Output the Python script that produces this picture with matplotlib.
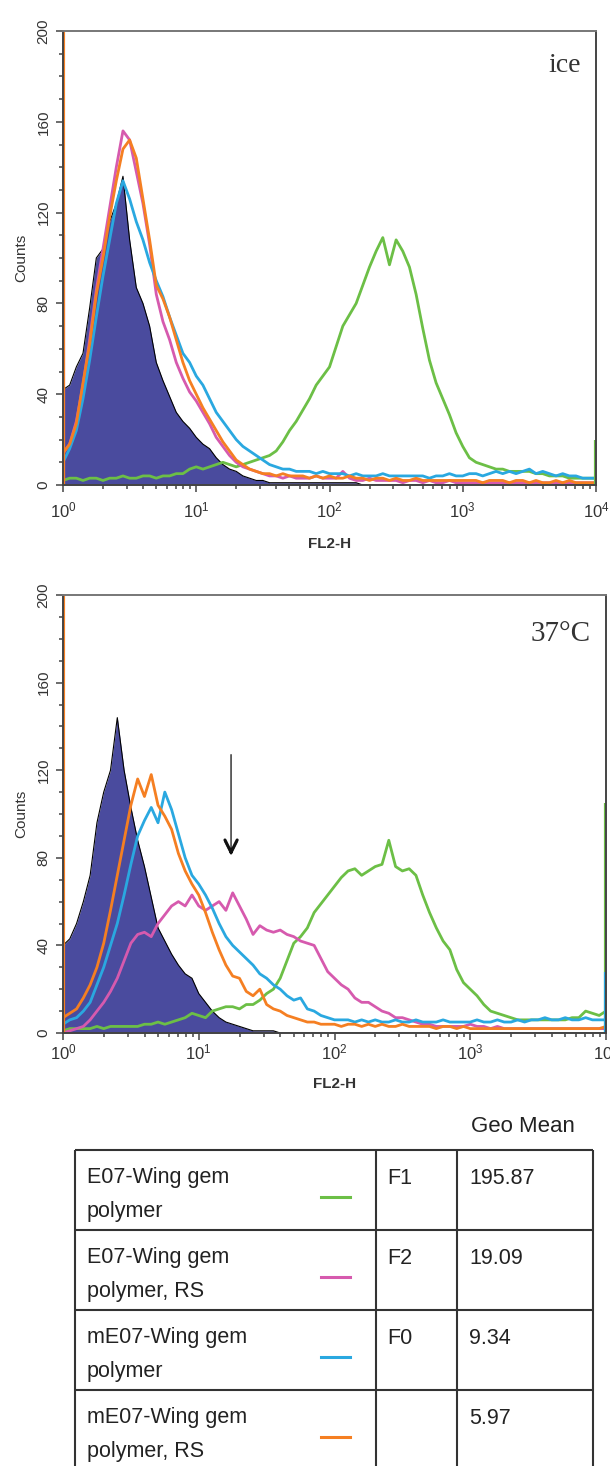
import numpy as np
import matplotlib
matplotlib.use("Agg")
import matplotlib.pyplot as plt
from matplotlib.ticker import FixedLocator, LogLocator, MultipleLocator, NullFormatter

plt.rcParams["font.family"] = ["Liberation Sans", "DejaVu Sans"]
plt.rcParams["mathtext.default"] = "regular"

# FL2-H channels, log10 units, 0.05-decade bins from 10^0 to 10^4
DECADES = np.round(np.arange(0, 4.0001, 0.05), 2)

# ---- ice panel (counts per channel) ----
ICE_CONTROL = [42, 44, 52, 58, 78, 100, 104, 116, 124, 136,
               108, 87, 80, 70, 54, 46, 39, 32, 28, 25,
               21, 18, 16, 12, 9, 7, 6, 4, 3, 2,
               2, 1, 1, 1, 1, 1, 1, 1, 1, 1,
               1, 1, 1, 1, 1, 0, 0, 0, 0, 0,
               0, 0, 0, 0, 0, 0, 0, 0, 0, 0,
               0, 0, 0, 0, 0, 0, 0, 0, 0, 0,
               0, 0, 0, 0, 0, 0, 0, 0, 0, 0,
               0]
ICE_GREEN = [2, 3, 3, 2, 3, 3, 2, 3, 3, 4,
             3, 3, 4, 4, 3, 4, 4, 5, 5, 7,
             8, 7, 8, 9, 10, 9, 8, 9, 10, 11,
             12, 13, 15, 19, 24, 28, 33, 38, 44, 48,
             52, 61, 70, 75, 80, 88, 96, 103, 109, 97,
             108, 103, 96, 84, 69, 55, 45, 38, 31, 23,
             17, 12, 10, 9, 8, 7, 7, 6, 6, 6,
             6, 5, 5, 4, 4, 4, 3, 3, 3, 3,
             3]
ICE_MAGENTA = [14, 18, 28, 44, 64, 86, 104, 122, 140, 156,
               152, 138, 124, 106, 84, 72, 64, 54, 47, 41,
               37, 32, 27, 21, 17, 13, 10, 8, 7, 6,
               5, 4, 4, 3, 4, 3, 3, 3, 4, 3,
               3, 3, 6, 3, 2, 2, 3, 2, 2, 2,
               2, 1, 2, 2, 1, 2, 1, 1, 2, 1,
               1, 1, 1, 1, 1, 1, 1, 1, 1, 1,
               1, 1, 1, 1, 1, 1, 1, 1, 1, 1,
               1]
ICE_CYAN = [10, 16, 24, 38, 55, 74, 92, 108, 124, 134,
            126, 116, 108, 98, 90, 83, 74, 66, 58, 54,
            48, 44, 38, 32, 28, 24, 20, 17, 15, 13,
            11, 9, 8, 7, 7, 6, 6, 6, 5, 6,
            5, 5, 5, 4, 5, 4, 4, 4, 5, 4,
            4, 4, 4, 4, 4, 3, 4, 4, 5, 4,
            4, 5, 5, 4, 5, 6, 5, 6, 5, 6,
            7, 5, 6, 5, 4, 5, 4, 4, 3, 3,
            3]
ICE_ORANGE = [14, 18, 27, 45, 62, 84, 100, 118, 134, 148,
              152, 144, 126, 108, 88, 82, 74, 64, 54, 46,
              40, 34, 29, 24, 19, 15, 11, 9, 7, 6,
              5, 5, 4, 5, 4, 4, 4, 3, 4, 3,
              4, 3, 3, 4, 3, 3, 2, 3, 3, 2,
              3, 2, 2, 3, 2, 2, 2, 2, 2, 2,
              2, 2, 2, 1, 2, 2, 2, 1, 2, 2,
              1, 2, 1, 1, 2, 1, 2, 1, 1, 1,
              1]
# off-scale events piled in the first / last channel (green, magenta, cyan, orange)
ICE_FIRST_CHANNEL = [0, 110, 0, 200]
ICE_LAST_CHANNEL = [20, 0, 0, 0]

# ---- 37 C panel ----
HOT_CONTROL = [40, 43, 50, 60, 72, 96, 110, 120, 144, 120,
               103, 88, 76, 62, 48, 42, 36, 31, 27, 25,
               18, 14, 10, 7, 5, 4, 3, 2, 1, 1,
               1, 1, 0, 0, 0, 0, 0, 0, 0, 0,
               0, 0, 0, 0, 0, 0, 0, 0, 0, 0,
               0, 0, 0, 0, 0, 0, 0, 0, 0, 0,
               0, 0, 0, 0, 0, 0, 0, 0, 0, 0,
               0, 0, 0, 0, 0, 0, 0, 0, 0, 0,
               0]
HOT_GREEN = [1, 2, 2, 2, 2, 3, 2, 3, 3, 3,
             3, 3, 4, 4, 5, 4, 5, 6, 7, 9,
             8, 7, 10, 11, 12, 12, 11, 13, 13, 15,
             18, 20, 25, 33, 41, 44, 48, 55, 59, 63,
             67, 71, 74, 75, 72, 74, 76, 77, 88, 76,
             74, 75, 72, 63, 55, 48, 42, 38, 29, 23,
             20, 17, 13, 10, 9, 8, 7, 6, 6, 6,
             6, 6, 6, 6, 6, 7, 7, 10, 9, 8,
             10]
HOT_MAGENTA = [0, 1, 2, 3, 6, 10, 14, 19, 25, 33,
               41, 45, 46, 44, 50, 54, 58, 60, 58, 63,
               58, 56, 58, 60, 56, 64, 58, 52, 45, 49,
               47, 46, 47, 45, 44, 42, 41, 40, 34, 28,
               25, 22, 20, 16, 14, 14, 12, 10, 9, 7,
               7, 6, 5, 4, 4, 3, 3, 3, 3, 3,
               4, 3, 3, 2, 3, 2, 2, 2, 2, 2,
               2, 2, 2, 2, 2, 2, 2, 2, 2, 2,
               2]
HOT_CYAN = [4, 6, 7, 10, 14, 22, 30, 40, 50, 63,
            77, 90, 97, 103, 96, 110, 102, 91, 80, 72,
            68, 63, 57, 50, 44, 40, 37, 34, 31, 27,
            25, 22, 20, 17, 15, 16, 11, 10, 8, 7,
            6, 6, 6, 5, 6, 5, 6, 5, 5, 6,
            5, 5, 6, 5, 5, 5, 6, 5, 5, 5,
            5, 6, 5, 5, 6, 5, 5, 6, 5, 6,
            6, 7, 6, 6, 7, 6, 6, 7, 6, 6,
            6]
HOT_ORANGE = [7, 9, 11, 16, 22, 30, 41, 56, 72, 88,
              104, 116, 108, 118, 104, 99, 93, 82, 74, 68,
              63, 55, 46, 38, 31, 26, 25, 19, 17, 20,
              13, 11, 10, 8, 7, 6, 5, 5, 4, 4,
              4, 3, 4, 4, 3, 4, 3, 4, 3, 3,
              4, 3, 3, 3, 3, 2, 3, 3, 2, 3,
              2, 2, 2, 2, 2, 2, 2, 2, 2, 2,
              2, 2, 2, 2, 2, 2, 2, 2, 2, 2,
              3]
HOT_FIRST_CHANNEL = [0, 0, 0, 200]
HOT_LAST_CHANNEL = [105, 0, 28, 0]

# arrow marking the F2 shoulder (FL2-H value, counts from -> to)
ARROW_X = 17.3
ARROW_Y = [127, 81]

# ---- legend table ----
SAMPLES = ["E07-Wing gem\npolymer", "E07-Wing gem\npolymer, RS",
           "mE07-Wing gem\npolymer", "mE07-Wing gem\npolymer, RS"]
FRACTIONS = ["F1", "F2", "F0", ""]
GEO_MEANS = [195.87, 19.09, 9.34, 5.97]

NAVY = "#4a4b9e"
COLORS = ["#6cbf46", "#d65aae", "#2aa8e0", "#f57f22"]  # green, magenta, cyan, orange
TEXT = "#333333"

W, H = 610, 1466
fig = plt.figure(figsize=(W / 100, H / 100), dpi=100)


def px_axes(left, top, right, bottom):
    return fig.add_axes([left / W, 1 - bottom / H, (right - left) / W, (bottom - top) / H])


def draw_panel(ax, control, series, first, last, tag, xpad, xlabelpad):
    x = 10 ** DECADES
    ax.fill_between(x, control, color=NAVY, lw=0, zorder=1)
    ax.plot(x, control, color="black", lw=0.8, zorder=1.5)
    for vals, c in zip(series, COLORS):
        ax.plot(x, vals, color=c, lw=2.0, zorder=2)
    for lo, hi, c in zip(first, last, COLORS):
        if lo:
            ax.vlines(x[0], 0, lo, color=c, lw=3, zorder=2)
        if hi:
            ax.vlines(x[-1], 0, hi, color=c, lw=3, zorder=2)

    ax.set_xscale("log")
    ax.set_xlim(1, 1e4)
    ax.set_ylim(0, 200)
    ax.xaxis.set_major_locator(FixedLocator([1, 10, 100, 1000, 10000]))
    ax.set_xticklabels([r"$10^{%d}$" % k for k in range(5)])
    ax.xaxis.set_minor_locator(LogLocator(base=10, subs=np.arange(2, 10)))
    ax.xaxis.set_minor_formatter(NullFormatter())
    ax.yaxis.set_major_locator(MultipleLocator(40))
    ax.yaxis.set_minor_locator(MultipleLocator(10))
    ax.tick_params(which="both", direction="out", colors="#444444", width=1.1,
                   labelcolor=TEXT)
    ax.tick_params(which="major", length=5)
    ax.tick_params(which="minor", length=3)
    ax.tick_params(axis="x", labelsize=12, pad=xpad)
    ax.tick_params(axis="y", labelsize=11, pad=4)
    plt.setp(ax.get_yticklabels(), rotation=90, va="center")
    for s in ax.spines.values():
        s.set_color("#444444")
        s.set_linewidth(1.4)
    ax.spines["top"].set_color("#777777")
    ax.set_ylabel("Counts", fontsize=11, color=TEXT, labelpad=6)
    ax.set_xlabel("FL2-H", fontsize=11, color=TEXT, fontweight="bold", labelpad=xlabelpad)
    return ax


ax1 = px_axes(63, 31, 596, 485)
draw_panel(ax1, ICE_CONTROL, [ICE_GREEN, ICE_MAGENTA, ICE_CYAN, ICE_ORANGE],
           ICE_FIRST_CHANNEL, ICE_LAST_CHANNEL, "ice", 6, 12)
ax1.text(0.972, 0.925, "ice", transform=ax1.transAxes, ha="right", va="center",
         fontsize=20, family="Liberation Serif", color=TEXT)

ax2 = px_axes(63, 595, 606, 1033)
draw_panel(ax2, HOT_CONTROL, [HOT_GREEN, HOT_MAGENTA, HOT_CYAN, HOT_ORANGE],
           HOT_FIRST_CHANNEL, HOT_LAST_CHANNEL, "37°C", 2, 10)
ax2.text(0.972, 0.91, "37°C", transform=ax2.transAxes, ha="right", va="center",
         fontsize=21, family="Liberation Serif", color=TEXT)
ax2.annotate("", xy=(ARROW_X, ARROW_Y[1]), xytext=(ARROW_X, ARROW_Y[0]),
             arrowprops=dict(arrowstyle="->", color="#555555", lw=1.3,
                             mutation_scale=22, shrinkA=0, shrinkB=0))
ax2.annotate("", xy=(ARROW_X, ARROW_Y[1]), xytext=(ARROW_X, ARROW_Y[1] + 3),
             arrowprops=dict(arrowstyle="->", color="#111111", lw=2.2,
                             mutation_scale=22, shrinkA=0, shrinkB=0))

# table drawn in pixel units
tb = fig.add_axes([0, 0, 1, 376 / H])
tb.set_xlim(0, W)
tb.set_ylim(H, H - 376)
tb.axis("off")
top, row_h = 1150, 80
x_left, x_c1, x_c2, x_right = 75, 376, 457, 593
n = len(SAMPLES)
for i in range(n + 1):
    tb.hlines(top + i * row_h, x_left, x_right, color="#333333", lw=1.5)
for xv in (x_left, x_c1, x_c2, x_right):
    tb.vlines(xv, top, top + n * row_h, color="#333333", lw=1.5)
tb.text(523, top - 23, "Geo Mean", ha="center", va="center", fontsize=16, color="#222222")
for i, (name, frac, gm, c) in enumerate(zip(SAMPLES, FRACTIONS, GEO_MEANS, COLORS)):
    y0 = top + i * row_h
    line1, line2 = name.split("\n")
    tb.text(87, y0 + 28, line1, ha="left", va="center", fontsize=15.5, color="#222222")
    tb.text(87, y0 + 61, line2, ha="left", va="center", fontsize=15.5, color="#222222")
    tb.plot([321, 350], [y0 + 47, y0 + 47], color=c, lw=2.2)
    tb.text(387, y0 + 28, frac, ha="left", va="center", fontsize=15.5, color="#222222")
    tb.text(469, y0 + 28, f"{gm:.2f}", ha="left", va="center", fontsize=15.5, color="#222222")

fig.savefig("out.png", dpi=100)
